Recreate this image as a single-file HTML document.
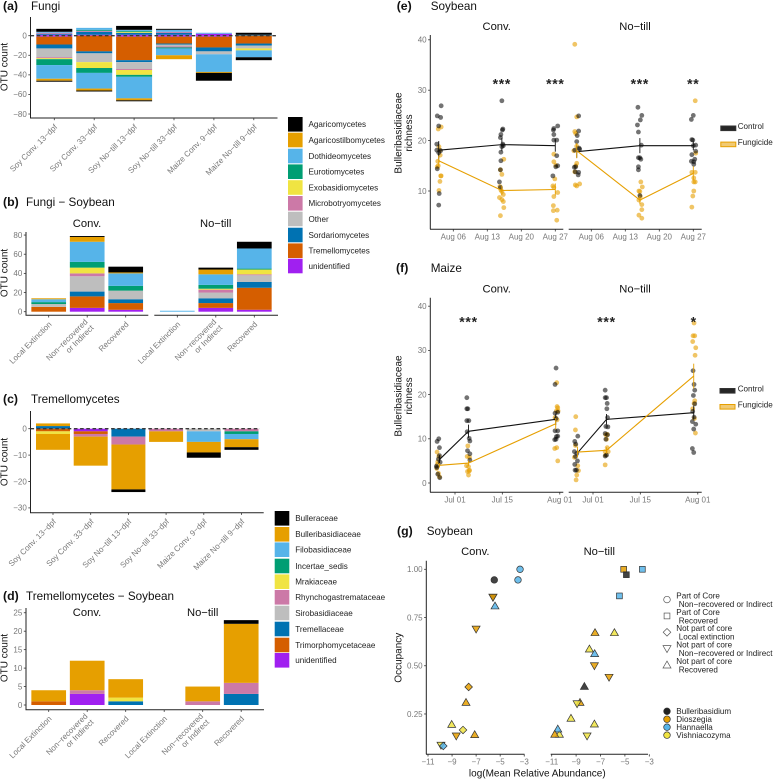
<!DOCTYPE html>
<html lang="en">
<head>
<meta charset="utf-8">
<title>Fungicide effects on fungal OTU counts and Bulleribasidiaceae richness</title>
<style>
html,body{margin:0;padding:0;background:#fff;}
svg{display:block;font-family:"Liberation Sans",sans-serif;filter:blur(0.3px);}
.ptitle{font-size:11.7px;fill:#111;}
.plabel{font-size:12.3px;font-weight:bold;fill:#111;}
.facet{font-size:11.2px;fill:#111;text-anchor:middle;}
.atitle{font-size:10px;fill:#111;text-anchor:middle;}
.tick{font-size:8px;fill:#777;}
.leg{font-size:8.1px;fill:#222;}
</style>
</head>
<body>
<svg id="fig" xmlns="http://www.w3.org/2000/svg" width="773" height="779" viewBox="0 0 773 779">
<rect x="0" y="0" width="773" height="779" fill="#fff"/>
<text class="plabel" x="3" y="10">(a)</text>
<text class="ptitle" x="31" y="10">Fungi</text>
<text class="atitle" transform="translate(7.5,67) rotate(-90)">OTU count</text>
<text class="plabel" x="3" y="206">(b)</text>
<text class="ptitle" x="26" y="206">Fungi − Soybean</text>
<text class="facet" x="87" y="227">Conv.</text>
<text class="facet" x="215.7" y="227">No−till</text>
<text class="atitle" transform="translate(7.5,273) rotate(-90)">OTU count</text>
<text class="plabel" x="3" y="403">(c)</text>
<text class="ptitle" x="31" y="403">Tremellomycetes</text>
<text class="atitle" transform="translate(7.5,462) rotate(-90)">OTU count</text>
<text class="plabel" x="3" y="600">(d)</text>
<text class="ptitle" x="26" y="600">Tremellomycetes − Soybean</text>
<text class="facet" x="87" y="616">Conv.</text>
<text class="facet" x="202.7" y="616">No−till</text>
<text class="atitle" transform="translate(7.5,658) rotate(-90)">OTU count</text>
<text class="plabel" x="396.7" y="10">(e)</text>
<text class="ptitle" x="430.7" y="10">Soybean</text>
<text class="facet" x="496.7" y="30">Conv.</text>
<text class="facet" x="635" y="30">No−till</text>
<text class="atitle" transform="translate(401.5,133) rotate(-90)">Bulleribasidiaceae</text>
<text class="atitle" transform="translate(412,133) rotate(-90)">richness</text>
<text class="plabel" x="396" y="272">(f)</text>
<text class="ptitle" x="430.7" y="272">Maize</text>
<text class="facet" x="496.7" y="292.3">Conv.</text>
<text class="facet" x="635" y="292.3">No−till</text>
<text class="atitle" transform="translate(401.5,396) rotate(-90)">Bulleribasidiaceae</text>
<text class="atitle" transform="translate(412,396) rotate(-90)">richness</text>
<text class="plabel" x="397" y="535">(g)</text>
<text class="ptitle" x="426.7" y="535">Soybean</text>
<text class="facet" x="475.3" y="555">Conv.</text>
<text class="facet" x="599.3" y="555">No−till</text>
<text class="atitle" transform="translate(401.5,657.7) rotate(-90)">Occupancy</text>
<text class="atitle" x="537.3" y="776.7">log(Mean Relative Abundance)</text>
</svg>
<script>
/* ---------- data ---------- */
const fungiTaxa = ['Agaricomycetes','Agaricostilbomycetes','Dothideomycetes','Eurotiomycetes','Exobasidiomycetes','Microbotryomycetes','Other','Sordariomycetes','Tremellomycetes','unidentified'];
const tremTaxa = ['Bulleraceae','Bulleribasidiaceae','Filobasidiaceae','Incertae_sedis','Mrakiaceae','Rhynchogastremataceae','Sirobasidiaceae','Tremellaceae','Trimorphomycetaceae','unidentified'];
const sampleLabels = [['Soy Conv. 13−dpf'],['Soy Conv. 33−dpf'],['Soy No−till 13−dpf'],['Soy No−till 33−dpf'],['Maize Conv. 9−dpf'],['Maize No−till 9−dpf']];
const recoveryLabels = [['Local Extinction'],['Non−recovered','or Indirect'],['Recovered'],['Local Extinction'],['Non−recovered','or Indirect'],['Recovered']];
const aYTicks = [0,-20,-40,-60,-80];
const bYTicks = [0,20,40,60,80];
const cYTicks = [0,-10,-20,-30];
const dYTicks = [0,5,10,15,20,25];
const aPositive = [
 [3,0,1,0,0,1,0,1,0,1],[0,0,2,1,0,1,0,3,0,1],[4,0,1,1,1,0,0,2,0,1],
 [1,0,2,0,0,1,0,2,0,1],[0,0,1,0,0,0,0,0,0,2],[2,0,0,0,0,0,0,1,0,0]];
const aNegative = [
 [1,2,14,6,1,1,9,4,8,1],[1,2,16,5,6,0,9,2,16,0],[1,2,22,2,5,1,7,2,24,1],
 [0,4,7,1,0,1,2,1,7,1],[8,1,18,0,0,0,3,4,11,1],[3,0,7,0,2,0,3,2,8,0]];
const bCounts = [
 [0,1,3,2,0,0,3,0,5,0],[1,5,21,6,6,3,16,5,12,4],[6,1,13,5,0,0,9,4,7,2],
 [0,0,1,0,0,0,0,0,0,0],[2,5,11,4,1,3,6,5,5,4],[7,0,21,1,5,1,7,6,23,2]];
const cPositive = [
 [0,1,0,0,0,0,0,1,0,0],[0,0,0,0,0,0,0,0,0,0],[0,0,0,0,0,0,0,0,0,0],
 [0,0,0,0,0,0,0,0,0,0],[0,0,0,0,0,0,0,0,0,0],[0,0,0,0,0,0,0,0,0,0]];
const cNegative = [
 [0,6,0,0,1,0,0,0,1,0],[0,11,0,0,0,1,0,0,1,1],[1,17,0,0,0,3,0,3,0,0],
 [0,4,0,0,0,1,0,0,0,0],[2,4,4,0,0,0,1,0,0,0],[1,3,2,1,0,1,0,0,0,0]];
const dCounts = [
 [0,3,0,0,0,0,0,0,1,0],[0,8,0,0,0,1,0,0,0,3],[0,5,0,0,1,0,0,1,0,0],
 [0,0,0,0,0,0,0,0,0,0],[0,4,0,0,0,1,0,0,0,0],[1,16,0,0,0,3,0,3,0,0]];

/* panel e: [day of August, richness] */
const eDateTicks = [6,13,20,27];
const eDateLabels = ['Aug 06','Aug 13','Aug 20','Aug 27'];
const eYTicks = [10,20,30,40];
const eMeanDates = [3,16,27];
const eStars = ['','***','***'];
const eStarsNoTill = ['','***','**'];
const eConvControlMean = [18.1,19.2,19.0];
const eConvControlSE = [1.8,1.3,1.2];
const eConvFungicideMean = [16.0,10.1,10.3];
const eConvFungicideSE = [1.0,0.9,1.2];
const eNoTillControlMean = [17.8,19.0,19.0];
const eNoTillControlSE = [1.2,1.5,0.9];
const eNoTillFungicideMean = [18.0,8.2,13.5];
const eNoTillFungicideSE = [1.5,0.8,1.4];
const eConvControlPts = [[3.5,26.9],[2.7,24.9],[3.4,24.6],[3,22.9],[2.6,19.3],[2.6,18.1],[3.4,18],[3,17.6],[2.7,14.4],[3.1,9.5],[3,7.2],
 [16,27.9],[16.2,22.3],[16.1,22.1],[15.8,21.2],[15.7,20.6],[16.2,19.3],[16.3,19],[16,18.8],[15.8,17.7],[15.8,16],[15.7,14.2],[15.5,11.8],[15.7,10.7],
 [27.5,22.9],[26.7,22.4],[26.6,22.1],[26.7,21.2],[26.7,20.1],[27.3,20.1],[27.3,17],[27.5,15],[27.1,14.8],[26.5,13]];
const eConvFungicidePts = [[3.5,22.7],[2.9,22.3],[3.05,18.8],[3.2,18.1],[3.3,17.1],[2.8,15.9],[2.9,15],[2.7,14.8],[3.4,13],[3.5,13],[3.25,11.9],[3.05,10.1],
 [16.4,16.3],[15.7,14.2],[16,13.3],[15.6,10.9],[15.8,10.2],[16,9.9],[16.3,9.3],[15.5,8.7],[16,8.3],[16.3,7.9],[16.4,6.7],[15.7,5.1],
 [26.7,17.3],[26.7,15.8],[27.1,15.1],[26.9,12.4],[26.5,11],[26.7,10.7],[27.5,9.7],[26.7,8.9],[26.6,7.1],[26.6,6.1],[27.4,6.2],[27.3,4.2]];
const eNoTillControlPts = [[3.4,24.9],[3.4,21.9],[3.1,21],[3,19.8],[2.6,18.1],[3.5,18.5],[3.6,18.3],[2.5,14.7],[2.8,14.8],[2.7,13.8],[3.4,13.7],[3.3,13.2],
 [15.6,26.6],[16.4,25],[16.1,24.1],[15.5,23.1],[15.7,21.7],[16.3,19.1],[15.7,16.6],[16,16.6],[16.2,16.3],[15.7,14.8],[15.7,14.2],[16,9.1],
 [27,25],[26.6,24.2],[26.7,20.2],[26.9,20.1],[27.5,19.1],[27,19],[27.5,17.9],[26.7,17.2],[27.3,16.3],[26.6,15.9],[27.1,15.8],[27.1,15.3]];
const eNoTillFungicidePts = [[2.6,39.1],[3,24.7],[2.6,21.8],[2.8,21.4],[3,18.9],[2.4,18],[3,15.5],[2.8,15],[2.6,13.8],[2.7,11.2],[3,11],[3.6,11.4],
 [16.2,11.8],[16.5,10.8],[15.8,10],[16,9.9],[16.1,8.9],[15.8,8.2],[16.4,7.3],[16.4,6.3],[15.8,5.2],[16.4,4.6],
 [27.4,27.9],[27.5,17.5],[26.7,13.7],[27.4,13.7],[27.1,12.6],[27.1,11.8],[27.4,11.8],[27.1,10],[26.9,9],[26.7,6.8]];

/* panel f: [days since Jul 01, richness] */
const fDateTicks = [0,14,31];
const fDateLabels = ['Jul 01','Jul 15','Aug 01'];
const fYTicks = [0,10,20,30,40];
const fMeanDates = [-4.6,4,29.8];
const fStars = ['','***',''];
const fStarsNoTill = ['','***','*'];
const fConvControlMean = [5.3,11.7,14.4];
const fConvControlSE = [1.0,1.5,1.3];
const fConvFungicideMean = [4.0,4.5,13.4];
const fConvFungicideSE = [0.5,0.6,1.3];
const fNoTillControlMean = [6.8,14.4,15.9];
const fNoTillControlSE = [0.8,1.2,1.5];
const fNoTillFungicideMean = [7.0,7.4,24.2];
const fNoTillFungicideSE = [1.2,0.7,2.8];
const fConvControlPts = [[-4.8,10],[-5.3,9.4],[-4.6,8],[-4.6,6.2],[-4.9,5.4],[-4.4,4.7],[-5.5,3.8],[-5.4,3.5],[-5.1,2],[-4.5,1.2],
 [3.5,19.3],[3.5,16.8],[3.8,16.8],[3.5,14.1],[4.1,14.1],[3.6,11.6],[4.2,10.1],[4.4,9.5],[3.7,7.3],[4.4,6.6],[4.4,5.2],
 [29.9,26],[29.6,22.3],[29.6,15.8],[30.4,16],[29.9,14.6],[30.4,11.8],[29.6,11.8],[30.4,10.6],[30,10.5],[29.5,9.8],[29.9,9.9]];
const fConvFungicidePts = [[-5.3,7],[-4.8,6],[-5.1,4.8],[-5.2,4.2],[-5.4,3.3],[-4.9,2.2],[-4.6,1.4],
 [3.8,8.4],[3.6,6],[4.3,5.8],[3.4,3.9],[4,3.7],[4.3,2.9],[3.7,2.6],[4.2,2.7],[4,1.8],
 [30.1,22.7],[30.2,17.3],[30.4,17],[30,16.3],[30.5,16.3],[29.6,14.8],[30.2,14.3],[29.5,7.8],[30.1,8],[30.4,5]];
const fNoTillControlPts = [[-5.4,9.4],[-5.1,8.8],[-4.5,10.6],[-5.5,7.1],[-4.8,6.7],[-5.2,6],[-4.6,5],[-5.4,4.2],[-5.3,2.9],[-4.9,2.9],
 [3.6,21],[3.6,19.3],[4,19.3],[4.2,18],[4.1,16.8],[4.3,14.8],[3.8,12.8],[4.4,12.7],[3.6,11.2],[4.3,10.9],[3.8,9.9],[4,6.3],[3.6,6.1],
 [29.6,25.4],[29.9,22.3],[30.1,21],[29.7,19.8],[30.1,17.9],[29.5,16.2],[29.9,14.9],[29.4,13.9],[30.4,13.3],[29.8,12.2],[29.4,7.8],[29.8,6.9]];
const fNoTillFungicidePts = [[-5.1,15],[-5.2,12],[-5.2,8.5],[-5.5,5.8],[-4.5,3.9],[-4.3,2.8],[-4.8,1.8],[-5,0.7],
 [3.8,10.9],[4.2,11],[4.2,8],[3.6,7.1],[4.5,7.1],[3.7,6.3],[3.6,4.1],[4,9.9],
 [29.9,36.2],[29.6,33.3],[30.1,33.3],[29.5,32],[30.4,30.6],[30.2,28.9],[30.1,18.6],[29.9,18],[30,14.6],[29.5,16.8],[30.3,11.3]];

/* panel g */
const gXTicks = [-11,-9,-7,-5,-3];
const gYTicks = [0.25,0.5,0.75,1];
const gConvAbundance = [-5.49,-3.35,-3.52,-5.6,-5.6,-5.43,-7.0,-7.62,-7.84,-9.03,-8.09,-8.65,-7.12,-9.92,-9.73];
const gConvOccupancy = [0.945,1.0,0.945,0.855,0.855,0.81,0.69,0.39,0.31,0.196,0.167,0.136,0.143,0.088,0.084];
const gConvShape = ['circle','circle','circle','down','down','up','down','diamond','up','up','diamond','down','up','down','diamond'];
const gConvGenus = ['Bulleribasidium','Hannaella','Hannaella','Bulleribasidium','Dioszegia','Hannaella','Dioszegia','Dioszegia','Dioszegia','Vishniacozyma','Vishniacozyma','Dioszegia','Dioszegia','Vishniacozyma','Hannaella'];
const gNoTillAbundance = [-5.1,-4.88,-3.57,-5.45,-7.45,-5.86,-7.91,-7.48,-7.5,-6.3,-8.32,-8.68,-8.92,-9.42,-7.5,-8.1,-10.37,-10.5,-10.75];
const gNoTillOccupancy = [1.0,0.972,1.0,0.862,0.672,0.672,0.587,0.563,0.5,0.44,0.393,0.31,0.303,0.228,0.198,0.136,0.145,0.172,0.145];
const gNoTillShape = ['square','square','square','square','up','up','up','up','down','down','up','up','down','up','up','down','up','up','up'];
const gNoTillGenus = ['Dioszegia','Bulleribasidium','Hannaella','Hannaella','Dioszegia','Vishniacozyma','Vishniacozyma','Hannaella','Dioszegia','Dioszegia','Bulleribasidium','Dioszegia','Vishniacozyma','Vishniacozyma','Vishniacozyma','Vishniacozyma','Vishniacozyma','Hannaella','Dioszegia'];
const gShapeLegend = [['circle','Part of Core','Non−recovered or Indirect'],['square','Part of Core','Recovered'],['diamond','Not part of core','Local extinction'],['down','Not part of core','Non−recovered or Indirect'],['up','Not part of core','Recovered']];
const gGenera = ['Bulleribasidium','Dioszegia','Hannaella','Vishniacozyma'];

/* ---------- styles ---------- */
const taxonFill = ['#000000','#E69F00','#56B4E9','#009E73','#F0E442','#CC79A7','#BEBEBE','#0072B2','#D55E00','#A020F0'];
const genusFill = {Bulleribasidium:'#222222',Dioszegia:'#E69F00',Hannaella:'#56B4E9',Vishniacozyma:'#F0E442'};
const BLACK = '#111111';
const ORANGE = '#E69F00';

/* ---------- helpers ---------- */
const NS = 'http://www.w3.org/2000/svg';
const svg = document.getElementById('fig');
function el(tag, attrs, parent) {
  const e = document.createElementNS(NS, tag);
  for (const k in attrs) e.setAttribute(k, attrs[k]);
  (parent || svg).appendChild(e);
  return e;
}
function fmt(v) { return String(v).replace('-', '−'); }
function group(name) {
  const g = el('g', {});
  
  
  return g;
}
function axisLine(g, x1, y1, x2, y2) {
  const l = el('line', {x1, y1, x2, y2, stroke:'#222', 'stroke-width':1}, g);
  
  
}
function yAxis(g, x, top, bottom, ticks, yFn, format) {
  axisLine(g, x, top, x, bottom);
  ticks.forEach(t => {
    const y = yFn(t);
    const tk = el('line', {x1:x-2.2, y1:y, x2:x, y2:y, stroke:'#333', 'stroke-width':0.8}, g);
    
    
    const lb = el('text', {x:x-3.7, y:y+2.8, 'text-anchor':'end', class:'tick'}, g);
    lb.textContent = format ? format(t) : fmt(t);
    
    
  });
}
function xTickMark(g, x, y) {
  const tk = el('line', {x1:x, y1:y, x2:x, y2:y+2.2, stroke:'#333', 'stroke-width':0.8}, g);
  
  
}
function xTickLabel(g, x, y, s) {
  const lb = el('text', {x, y, 'text-anchor':'middle', class:'tick'}, g);
  lb.textContent = s;
  
  
}
function rotatedLabel(g, x, axisY, lines) {
  const off = lines.length > 1 ? -2.5 : 0;
  lines.forEach((s, i) => {
    const ax = x + 3.5 + off + i * 6;
    const ay = axisY + 9.5 + off + i * 6;
    const t = el('text', {'text-anchor':'end', class:'tick', transform:'translate(' + ax + ',' + ay + ') rotate(-45)'}, g);
    t.textContent = s;
    
    
  });
}
/* stacks: first taxon furthest from zero, last taxon nearest zero */
function drawStack(g, cx, w, row, sign, yFn) {
  let acc = 0;
  for (let i = row.length - 1; i >= 0; i--) {
    const v = row[i];
    if (!v) continue;
    const y0 = yFn(sign * acc);
    const y1 = yFn(sign * (acc + v));
    const r = el('rect', {x:cx - w / 2, y:Math.min(y0, y1), width:w, height:Math.abs(y1 - y0), fill:taxonFill[i]}, g);
    
    
    const tip = el('title', {}, r);
    tip.textContent = (sign < 0 ? '-' : '') + v;
    acc += v;
  }
}
function zeroLine(g, x1, x2, y) {
  const l = el('line', {x1, y1:y, x2, y2:y, stroke:'#3a3a3a', 'stroke-width':1.4, 'stroke-dasharray':'3.6 2.6'}, g);
  
  
}
function taxonLegend(name, taxa, x, ys) {
  const g = group(name);
  taxa.forEach((t, i) => {
    const s = el('rect', {x, y:ys[i] - 7.3, width:14.6, height:14.6, fill:taxonFill[i]}, g);
    
    
    const lb = el('text', {x:x + 20.5, y:ys[i] + 2.8, class:'leg'}, g);
    lb.textContent = t;
    
    
  });
}

/* ---------- panel a ---------- */
(function () {
  const g = group('panel-a-chart');
  const y = v => 35.7 - v * 0.979;
  const x = i => 54.3 + i * 39.9;
  aPositive.forEach((row, i) => drawStack(g, x(i), 36, row, 1, y));
  aNegative.forEach((row, i) => drawStack(g, x(i), 36, row, -1, y));
  zeroLine(g, 30.5, 277, y(0));
  yAxis(g, 30.5, 17, 118, aYTicks, y);
  axisLine(g, 30, 118, 277.5, 118);
  sampleLabels.forEach((s, i) => { xTickMark(g, x(i), 118); rotatedLabel(g, x(i), 118, s); });
})();
taxonLegend('fungi-legend', fungiTaxa, 288, [124.3,140,156,171.7,187.5,203.3,219,235,250.7,266]);

/* ---------- panel b ---------- */
(function () {
  const g = group('panel-b-chart');
  const y = v => 311.7 - v * 0.958;
  const x = i => (i < 3 ? 48.7 + i * 38.5 : 177.3 + (i - 3) * 38.5);
  bCounts.forEach((row, i) => drawStack(g, x(i), 34.7, row, 1, y));
  yAxis(g, 26, 232, 315.3, bYTicks, y);
  axisLine(g, 25.5, 315.3, 148.3, 315.3);
  axisLine(g, 154.3, 315.3, 278, 315.3);
  recoveryLabels.forEach((s, i) => { xTickMark(g, x(i), 315.3); rotatedLabel(g, x(i), 315.3, s); });
})();

/* ---------- panel c ---------- */
(function () {
  const g = group('panel-c-chart');
  const y = v => 428.7 - v * 2.64;
  const x = i => 53 + i * 37.7;
  cPositive.forEach((row, i) => drawStack(g, x(i), 34, row, 1, y));
  cNegative.forEach((row, i) => drawStack(g, x(i), 34, row, -1, y));
  zeroLine(g, 30.5, 260, y(0));
  yAxis(g, 30.5, 411, 512.7, cYTicks, y);
  axisLine(g, 30, 512.7, 263.7, 512.7);
  sampleLabels.forEach((s, i) => { xTickMark(g, x(i), 512.7); rotatedLabel(g, x(i), 512.7, s); });
})();
taxonLegend('tremellomycetes-legend', tremTaxa, 274.7, [518.3,534.3,549.7,566,581.7,597.3,613,629,645,660.3]);

/* ---------- panel d ---------- */
(function () {
  const g = group('panel-d-chart');
  const y = v => 705 - v * 3.69;
  const x = i => 48.7 + i * 38.5;
  dCounts.forEach((row, i) => drawStack(g, x(i), 34.7, row, 1, y));
  yAxis(g, 26, 608, 709.7, dYTicks, y);
  axisLine(g, 25.5, 709.7, 264, 709.7);
  recoveryLabels.forEach((s, i) => { xTickMark(g, x(i), 709.7); rotatedLabel(g, x(i), 709.7, s); });
})();

/* ---------- panels e and f ---------- */
function drawFacet(g, xFn, yFn, ctrlPts, fungPts, dates, ctrlMean, ctrlSE, fungMean, fungSE, stars, starY) {
  fungPts.forEach(p => {
    const c = el('circle', {cx:xFn(p[0]), cy:yFn(p[1]), r:2.4, fill:ORANGE, 'fill-opacity':0.6}, g);
    
    
  });
  ctrlPts.forEach(p => {
    const c = el('circle', {cx:xFn(p[0]), cy:yFn(p[1]), r:2.4, fill:'#000', 'fill-opacity':0.55}, g);
    
    
  });
  [[ctrlMean, ctrlSE, BLACK, 'control'], [fungMean, fungSE, ORANGE, 'fungicide']].forEach(s => {
    const pts = dates.map((d, i) => xFn(d) + ',' + yFn(s[0][i])).join(' ');
    const l = el('polyline', {points:pts, fill:'none', stroke:s[2], 'stroke-width':1.1}, g);
    
    
    dates.forEach((d, i) => {
      const e = el('line', {x1:xFn(d), x2:xFn(d), y1:yFn(s[0][i] - s[1][i]), y2:yFn(s[0][i] + s[1][i]), stroke:s[2], 'stroke-width':0.9}, g);
      
      
    });
  });
  dates.forEach((d, i) => {
    if (!stars[i]) return;
    const t = el('text', {x:xFn(d), y:starY + 6.6, 'text-anchor':'middle', 'font-size':14, 'font-weight':'bold', fill:'#222', 'letter-spacing':'0.7'}, g);
    t.textContent = stars[i];
    
    
  });
}
function richnessLegend(name, yCtrl, yFung, keyX) {
  const g = group(name);
  [[yCtrl, '#000', '#333', 0.85, 'Control'], [yFung, ORANGE, ORANGE, 0.55, 'Fungicide']].forEach(s => {
    const k = el('rect', {x:keyX, y:s[0] - 2.2, width:15, height:4.6, fill:s[1], 'fill-opacity':s[3], stroke:s[2], 'stroke-width':1}, g);
    
    
    const lb = el('text', {x:737.7, y:s[0] + 0.8, class:'leg'}, g);
    lb.textContent = s[4];
    
    
  });
}
(function () {
  const g = group('panel-e-chart');
  const y = v => 191 - (v - 10) * 5.04;
  const x1 = d => 453.3 + (d - 6) * 4.857;
  const x2 = d => 591.3 + (d - 6) * 4.857;
  drawFacet(g, x1, y, eConvControlPts, eConvFungicidePts, eMeanDates, eConvControlMean, eConvControlSE, eConvFungicideMean, eConvFungicideSE, eStars, 81.7);
  drawFacet(g, x2, y, eNoTillControlPts, eNoTillFungicidePts, eMeanDates, eNoTillControlMean, eNoTillControlSE, eNoTillFungicideMean, eNoTillFungicideSE, eStarsNoTill, 81.7);
  yAxis(g, 430.3, 35, 229.3, eYTicks, y);
  axisLine(g, 430, 229.3, 563.3, 229.3);
  axisLine(g, 568.7, 229.3, 701.7, 229.3);
  eDateTicks.forEach((d, i) => {
    xTickMark(g, x1(d), 229.3); xTickLabel(g, x1(d), 239.5, eDateLabels[i]);
    xTickMark(g, x2(d), 229.3); xTickLabel(g, x2(d), 239.5, eDateLabels[i]);
  });
})();
richnessLegend('panel-e-legend', 128.2, 144.3, 720.8);
(function () {
  const g = group('panel-f-chart');
  const y = v => 483 - v * 4.42;
  const x1 = d => 455 + d * 3.38;
  const x2 = d => 593 + d * 3.38;
  drawFacet(g, x1, y, fConvControlPts, fConvFungicidePts, fMeanDates, fConvControlMean, fConvControlSE, fConvFungicideMean, fConvFungicideSE, fStars, 320);
  drawFacet(g, x2, y, fNoTillControlPts, fNoTillFungicidePts, fMeanDates, fNoTillControlMean, fNoTillControlSE, fNoTillFungicideMean, fNoTillFungicideSE, fStarsNoTill, 320);
  yAxis(g, 430.3, 297.7, 492.3, fYTicks, y);
  axisLine(g, 430, 492.3, 563.3, 492.3);
  axisLine(g, 568.7, 492.3, 701.7, 492.3);
  fDateTicks.forEach((d, i) => {
    xTickMark(g, x1(d), 492.3); xTickLabel(g, x1(d), 502.5, fDateLabels[i]);
    xTickMark(g, x2(d), 492.3); xTickLabel(g, x2(d), 502.5, fDateLabels[i]);
  });
})();
richnessLegend('panel-f-legend', 390.7, 406.7, 720);

/* ---------- panel g ---------- */
function marker(g, shape, cx, cy, fill, stroke, opacity) {
  const a = {fill:fill, stroke:stroke, 'stroke-width':0.7, 'fill-opacity':opacity};
  let m;
  if (shape === 'circle') {
    a.cx = cx; a.cy = cy; a.r = 3.3;
    m = el('circle', a, g);
  } else if (shape === 'square') {
    a.x = cx - 2.9; a.y = cy - 2.9; a.width = 5.8; a.height = 5.8;
    m = el('rect', a, g);
  } else {
    let pts;
    if (shape === 'diamond') pts = [[cx, cy - 3.8], [cx + 3.8, cy], [cx, cy + 3.8], [cx - 3.8, cy]];
    if (shape === 'up') pts = [[cx, cy - 3.9], [cx + 4, cy + 3], [cx - 4, cy + 3]];
    if (shape === 'down') pts = [[cx, cy + 3.9], [cx + 4, cy - 3], [cx - 4, cy - 3]];
    a.points = pts.map(p => p.join(',')).join(' ');
    m = el('polygon', a, g);
  }
  
  
}
(function () {
  const g = group('panel-g-chart');
  const y = v => 569.3 + (1 - v) * 192.9;
  const x1 = v => 428 + (v + 11) * 12.03;
  const x2 = v => 551.7 + (v + 11) * 12.2;
  gConvAbundance.forEach((v, i) => marker(g, gConvShape[i], x1(v), y(gConvOccupancy[i]), genusFill[gConvGenus[i]], '#333', 0.85));
  gNoTillAbundance.forEach((v, i) => marker(g, gNoTillShape[i], x2(v), y(gNoTillOccupancy[i]), genusFill[gNoTillGenus[i]], '#333', 0.85));
  yAxis(g, 426.3, 560.7, 754.3, gYTicks, y, t => t.toFixed(2));
  axisLine(g, 426, 754.3, 524.5, 754.3);
  axisLine(g, 550.7, 754.3, 648, 754.3);
  gXTicks.forEach(t => {
    xTickMark(g, x1(t), 754.3); xTickLabel(g, x1(t), 764.3, fmt(t));
    xTickMark(g, x2(t), 754.3); xTickLabel(g, x2(t), 764.3, fmt(t));
  });
  const lg = group('panel-g-shape-legend');
  gShapeLegend.forEach((s, i) => {
    const base = 595.7 + i * 16.35;
    marker(lg, s[0], 667, base + 3.9, '#fff', '#555', 1);
    const a = el('text', {x:676.3, y:base + 2.8, class:'leg'}, lg);
    a.textContent = s[1];
    
    
    const b = el('text', {x:678.7, y:base + 11.3, class:'leg'}, lg);
    b.textContent = s[2];
    
    
  });
  const gg = group('panel-g-genus-legend');
  gGenera.forEach((s, i) => {
    const cy = 711.3 + i * 7.95;
    marker(gg, 'circle', 667, cy, genusFill[s], '#333', 1);
    const t = el('text', {x:676.3, y:cy + 2.8, class:'leg'}, gg);
    t.textContent = s;
    
    
  });
})();
</script>
</body>
</html>
